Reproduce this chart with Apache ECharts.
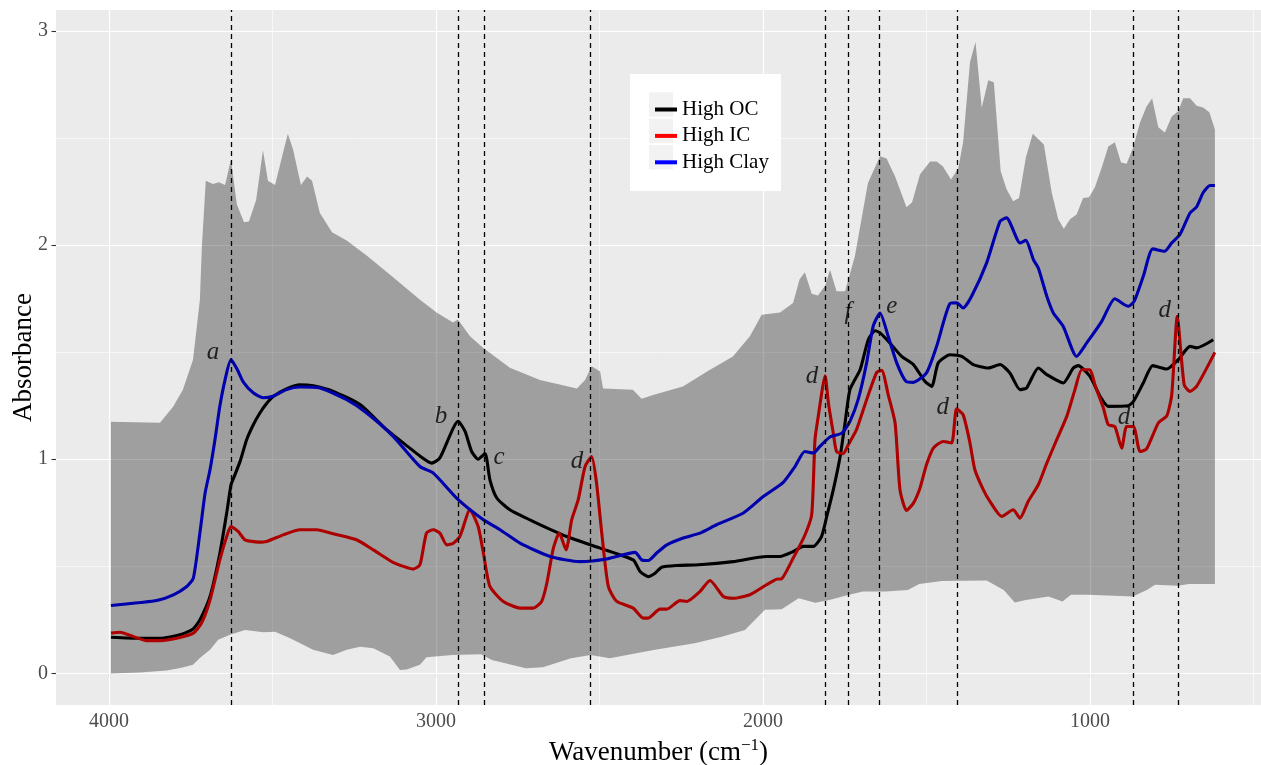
<!DOCTYPE html>
<html>
<head>
<meta charset="utf-8">
<script src="https://cdn.jsdelivr.net/npm/echarts@6/dist/echarts.min.js"></script>
<style>html,body{margin:0;padding:0;background:#fff;}#c{width:1261px;height:765px;}</style>
</head>
<body>
<div id="c"></div>
<script>
// ---- data (wavenumber cm^-1, absorbance) ----
const xTicks = [4000, 3000, 2000, 1000];
const xMinor = [3500, 2500, 1500, 500];
const yTicks = [0, 1, 2, 3];
const yMinor = [0.5, 1.5, 2.5];

const bandUpper = [[3994,1.175],[3844,1.17],[3804,1.245],[3774,1.325],[3743,1.465],[3722,1.745],[3716,1.99],[3704,2.30],[3682,2.285],[3664,2.293],[3645,2.28],[3627,2.40],[3609,2.19],[3587,2.107],[3572,2.11],[3550,2.21],[3529,2.443],[3514,2.30],[3492,2.28],[3468,2.43],[3453,2.52],[3437,2.446],[3413,2.28],[3394,2.32],[3379,2.30],[3355,2.15],[3318,2.06],[3272,2.02],[3211,1.95],[3131,1.85],[3049,1.745],[2998,1.685],[2948,1.638],[2933,1.652],[2896,1.574],[2856,1.52],[2774,1.427],[2682,1.37],[2569,1.33],[2544,1.37],[2524,1.434],[2498,1.41],[2489,1.33],[2398,1.325],[2371,1.282],[2336,1.30],[2245,1.34],[2162,1.418],[2092,1.48],[2040,1.574],[2004,1.675],[1948,1.685],[1908,1.73],[1888,1.84],[1872,1.873],[1851,1.773],[1832,1.764],[1810,1.81],[1795,1.885],[1775,1.784],[1749,1.784],[1719,1.948],[1679,2.29],[1642,2.415],[1622,2.404],[1596,2.32],[1561,2.177],[1544,2.20],[1520,2.33],[1489,2.39],[1469,2.39],[1450,2.368],[1425,2.306],[1403,2.357],[1388,2.48],[1367,2.853],[1350,2.948],[1331,2.642],[1311,2.77],[1294,2.76],[1273,2.345],[1255,2.26],[1235,2.205],[1217,2.22],[1196,2.41],[1175,2.52],[1141,2.47],[1117,2.245],[1097,2.12],[1080,2.076],[1061,2.12],[1041,2.143],[1021,2.22],[1003,2.223],[985,2.27],[964,2.362],[944,2.46],[924,2.48],[905,2.385],[888,2.38],[868,2.455],[847,2.572],[827,2.647],[810,2.685],[791,2.55],[771,2.525],[750,2.60],[730,2.625],[715,2.685],[694,2.685],[674,2.65],[654,2.642],[635,2.62],[618,2.54]];

const bandLower = [[3994,0.0],[3905,0.004],[3824,0.013],[3778,0.026],[3743,0.04],[3722,0.072],[3691,0.11],[3666,0.157],[3630,0.18],[3584,0.203],[3528,0.192],[3492,0.195],[3446,0.164],[3376,0.11],[3315,0.086],[3273,0.11],[3232,0.125],[3192,0.118],[3141,0.079],[3110,0.016],[3090,0.018],[3049,0.04],[3029,0.076],[2950,0.086],[2862,0.09],[2829,0.063],[2725,0.024],[2673,0.029],[2587,0.071],[2527,0.086],[2468,0.071],[2416,0.086],[2330,0.11],[2209,0.141],[2123,0.172],[2055,0.203],[1994,0.297],[1943,0.30],[1891,0.351],[1840,0.33],[1797,0.343],[1737,0.367],[1694,0.382],[1625,0.382],[1557,0.39],[1522,0.418],[1453,0.432],[1316,0.434],[1264,0.39],[1230,0.331],[1196,0.343],[1127,0.359],[1084,0.336],[1058,0.367],[1006,0.367],[869,0.359],[826,0.39],[801,0.414],[731,0.409],[697,0.418],[618,0.418]];

const highOC = [[3994,0.169],[3905,0.164],[3844,0.164],[3783,0.18],[3744,0.206],[3722,0.25],[3691,0.359],[3661,0.56],[3640,0.749],[3627,0.88],[3621,0.904],[3599,0.99],[3579,1.091],[3559,1.16],[3538,1.217],[3518,1.26],[3498,1.293],[3456,1.33],[3416,1.348],[3375,1.343],[3314,1.317],[3232,1.255],[3151,1.138],[3080,1.052],[3049,1.015],[3013,0.982],[2988,1.006],[2932,1.177],[2911,1.13],[2891,1.036],[2871,1.0],[2850,1.026],[2835,0.904],[2814,0.819],[2774,0.764],[2702,0.709],[2600,0.639],[2498,0.585],[2397,0.530],[2376,0.476],[2351,0.452],[2330,0.468],[2310,0.496],[2264,0.504],[2196,0.507],[2091,0.522],[1989,0.546],[1948,0.546],[1907,0.569],[1877,0.593],[1846,0.593],[1821,0.639],[1805,0.733],[1785,0.857],[1764,1.013],[1749,1.169],[1734,1.325],[1703,1.418],[1678,1.558],[1657,1.60],[1642,1.59],[1612,1.543],[1576,1.48],[1540,1.442],[1505,1.364],[1484,1.34],[1464,1.45],[1428,1.488],[1392,1.48],[1357,1.442],[1311,1.426],[1275,1.442],[1245,1.403],[1214,1.325],[1194,1.333],[1158,1.426],[1132,1.395],[1082,1.356],[1051,1.426],[1036,1.437],[1000,1.387],[969,1.293],[944,1.247],[883,1.25],[867,1.27],[837,1.356],[808,1.437],[765,1.421],[730,1.465],[694,1.527],[674,1.52],[623,1.558]];

const highIC = [[3994,0.188],[3966,0.192],[3926,0.172],[3885,0.153],[3844,0.153],[3793,0.164],[3742,0.188],[3717,0.235],[3691,0.343],[3661,0.53],[3640,0.639],[3627,0.686],[3605,0.663],[3584,0.624],[3543,0.613],[3518,0.616],[3467,0.647],[3416,0.671],[3365,0.671],[3314,0.652],[3243,0.624],[3192,0.577],[3131,0.518],[3110,0.505],[3070,0.487],[3049,0.507],[3029,0.655],[3008,0.671],[2988,0.655],[2967,0.60],[2947,0.608],[2927,0.639],[2896,0.764],[2871,0.686],[2855,0.562],[2835,0.406],[2794,0.336],[2743,0.305],[2702,0.305],[2677,0.336],[2661,0.421],[2641,0.585],[2623,0.655],[2602,0.577],[2585,0.717],[2565,0.811],[2544,0.966],[2524,1.013],[2509,0.889],[2493,0.655],[2473,0.406],[2447,0.336],[2397,0.305],[2366,0.258],[2351,0.258],[2315,0.30],[2294,0.30],[2254,0.34],[2233,0.336],[2193,0.382],[2162,0.434],[2121,0.359],[2091,0.351],[2040,0.367],[1989,0.414],[1958,0.44],[1943,0.442],[1907,0.54],[1872,0.645],[1851,0.741],[1841,1.09],[1831,1.2],[1810,1.39],[1800,1.263],[1785,1.122],[1775,1.036],[1755,1.026],[1739,1.068],[1714,1.138],[1683,1.278],[1652,1.406],[1637,1.415],[1617,1.301],[1596,1.169],[1581,0.857],[1561,0.761],[1540,0.795],[1520,0.865],[1500,0.974],[1479,1.052],[1449,1.083],[1423,1.076],[1408,1.235],[1388,1.208],[1367,1.076],[1352,0.951],[1326,0.857],[1306,0.803],[1270,0.733],[1235,0.764],[1214,0.725],[1189,0.803],[1158,0.881],[1132,0.982],[1102,1.09],[1071,1.2],[1046,1.325],[1025,1.418],[1000,1.418],[985,1.348],[959,1.239],[944,1.161],[924,1.153],[903,1.052],[888,1.153],[867,1.153],[847,1.036],[827,1.048],[791,1.169],[765,1.203],[750,1.301],[733,1.667],[712,1.348],[694,1.317],[674,1.34],[618,1.499]];

const highClay = [[3994,0.317],[3905,0.331],[3854,0.34],[3803,0.367],[3762,0.406],[3742,0.445],[3722,0.655],[3706,0.842],[3691,0.951],[3676,1.09],[3661,1.247],[3645,1.371],[3627,1.465],[3608,1.42],[3589,1.36],[3559,1.31],[3528,1.287],[3498,1.294],[3457,1.325],[3416,1.337],[3355,1.333],[3273,1.278],[3212,1.216],[3131,1.107],[3049,0.966],[3008,0.935],[2932,0.811],[2855,0.717],[2804,0.671],[2743,0.608],[2651,0.546],[2560,0.522],[2478,0.534],[2391,0.565],[2371,0.53],[2351,0.527],[2325,0.562],[2294,0.60],[2244,0.632],[2193,0.655],[2142,0.694],[2060,0.749],[1999,0.826],[1938,0.892],[1902,0.966],[1872,1.036],[1846,1.029],[1826,1.06],[1795,1.104],[1759,1.122],[1734,1.177],[1709,1.278],[1683,1.45],[1663,1.621],[1642,1.683],[1617,1.574],[1591,1.45],[1563,1.364],[1540,1.359],[1500,1.403],[1469,1.527],[1428,1.727],[1408,1.73],[1388,1.706],[1362,1.761],[1316,1.917],[1275,2.111],[1255,2.127],[1214,2.01],[1196,2.022],[1173,1.932],[1158,1.893],[1132,1.761],[1112,1.683],[1082,1.621],[1041,1.48],[1010,1.543],[964,1.644],[924,1.749],[883,1.714],[865,1.737],[837,1.854],[808,1.982],[772,1.971],[750,2.01],[725,2.049],[694,2.15],[674,2.178],[654,2.244],[633,2.278],[618,2.278]];

const peakLines = [3627, 2931, 2851, 2527, 1809, 1740, 1645, 1405, 869, 731];
const peakLetters = ['a','b','c','d','d','f','e','d','d','d'];
const peakLabelPos = [[3682,1.50],[2985,1.199],[2807,1.008],[2569,0.988],[1850,1.386],[1740,1.685],[1606,1.714],[1450,1.241],[896,1.194],[771,1.696]];

const seriesNames = ['High OC', 'High IC', 'High Clay'];
const seriesColors = ['#000000', '#ff0000', '#0000ff'];

// ---- chart ----
const FONT = "'Liberation Serif', 'Times New Roman', serif";
const chart = echarts.init(document.getElementById('c'), null, {renderer: 'canvas'});

const gridLines = [];
xTicks.forEach(v => gridLines.push({xAxis: v}));
yTicks.forEach(v => gridLines.push({yAxis: v}));
xMinor.forEach(v => gridLines.push({xAxis: v, lineStyle: {width: 0.6}}));
yMinor.forEach(v => gridLines.push({yAxis: v, lineStyle: {width: 0.6}}));

const lineData = [highOC, highIC, highClay];

const option = {
  animation: false,
  backgroundColor: '#ffffff',
  grid: {left: 56, right: 0, top: 10, bottom: 60, show: true, backgroundColor: '#ebebeb', borderWidth: 0,
         containLabel: false, outerBoundsMode: 'none'},
  xAxis: {
    type: 'value', inverse: true, min: 477, max: 4162,
    axisLine: {show: false},
    axisTick: {show: true, customValues: xTicks, length: 4.5, lineStyle: {color: '#333333', width: 1.1}},
    axisLabel: {customValues: xTicks, color: '#4d4d4d', fontSize: 20, fontFamily: FONT, margin: 7,
                formatter: v => String(v)},
    splitLine: {show: false},
    name: '{a|Wavenumber (cm}{s|\u22121}{a|)}',
    nameLocation: 'middle', nameGap: 30,
    nameTextStyle: {
      rich: {
        a: {fontSize: 27, fontFamily: FONT, color: '#000', lineHeight: 32, verticalAlign: 'middle'},
        s: {fontSize: 17, fontFamily: FONT, color: '#000', lineHeight: 16, verticalAlign: 'top'}
      }
    }
  },
  yAxis: {
    type: 'value', min: -0.1475, max: 3.0975,
    axisLine: {show: false},
    axisTick: {show: true, customValues: yTicks, length: 4.5, lineStyle: {color: '#333333', width: 1.1}},
    axisLabel: {customValues: yTicks, color: '#4d4d4d', fontSize: 20, fontFamily: FONT, margin: 8,
                formatter: v => String(v)},
    splitLine: {show: false},
    name: 'Absorbance', nameLocation: 'middle', nameGap: 19, nameRotate: 90, nameMoveOverlap: false,
    nameTextStyle: {fontSize: 27, fontFamily: FONT, color: '#000'}
  },
  legend: {
    data: seriesNames, orient: 'vertical', left: 650, top: 92.5, z: 100,
    icon: 'rect', itemWidth: 22, itemHeight: 4, itemGap: 2.4, selectedMode: false,
    textStyle: {fontFamily: FONT, fontSize: 21, color: '#000', lineHeight: 24}
  },
  graphic: [
    {type: 'rect', z: 90, silent: true, shape: {x: 630, y: 74, width: 151, height: 117}, style: {fill: '#ffffff'}},
    {type: 'rect', z: 91, silent: true, shape: {x: 649, y: 92.3, width: 24, height: 24.4}, style: {fill: '#f2f2f2'}},
    {type: 'rect', z: 91, silent: true, shape: {x: 649, y: 118.7, width: 24, height: 24.4}, style: {fill: '#f2f2f2'}},
    {type: 'rect', z: 91, silent: true, shape: {x: 649, y: 145.1, width: 24, height: 24.4}, style: {fill: '#f2f2f2'}}
  ],
  series: [
    {
      type: 'line', data: [], silent: true,
      markLine: {z: 1, silent: true, animation: false, symbol: ['none', 'none'], label: {show: false},
        lineStyle: {color: '#ffffff', width: 1.2, type: 'solid'}, emphasis: {disabled: true}, data: gridLines}
    },
    ...seriesNames.map((n, i) => ({
      name: n, type: 'line', z: 2, data: lineData[i], showSymbol: false, symbol: 'none', silent: true,
      smooth: 0.2,
      lineStyle: {color: seriesColors[i], width: 3.1}, itemStyle: {color: seriesColors[i]},
      emphasis: {disabled: true}
    })),
    {
      type: 'custom', z: 3, silent: true, data: [[2000, 1]],
      renderItem: function (params, api) {
        const pts = bandUpper.map(p => api.coord(p)).concat(bandLower.slice().reverse().map(p => api.coord(p)));
        return {type: 'polygon', shape: {points: pts}, style: {fill: 'rgba(0,0,0,0.32)'}};
      }
    },
    {
      type: 'line', data: [], silent: true,
      markLine: {z: 4, silent: true, animation: false, symbol: ['none', 'none'], label: {show: false},
        lineStyle: {color: '#000000', width: 1.3, type: [5, 4]}, emphasis: {disabled: true},
        data: peakLines.map(w => ({xAxis: w}))}
    },
    {
      type: 'scatter', z: 5, silent: true, symbolSize: 1, itemStyle: {color: 'rgba(0,0,0,0)'},
      data: peakLetters.map((t, i) => ({name: t, value: peakLabelPos[i]})),
      label: {show: true, position: 'inside', formatter: '{b}', color: '#000', fontSize: 25, fontStyle: 'italic', fontFamily: FONT}
    }
  ]
};
chart.setOption(option);
</script>
</body>
</html>
